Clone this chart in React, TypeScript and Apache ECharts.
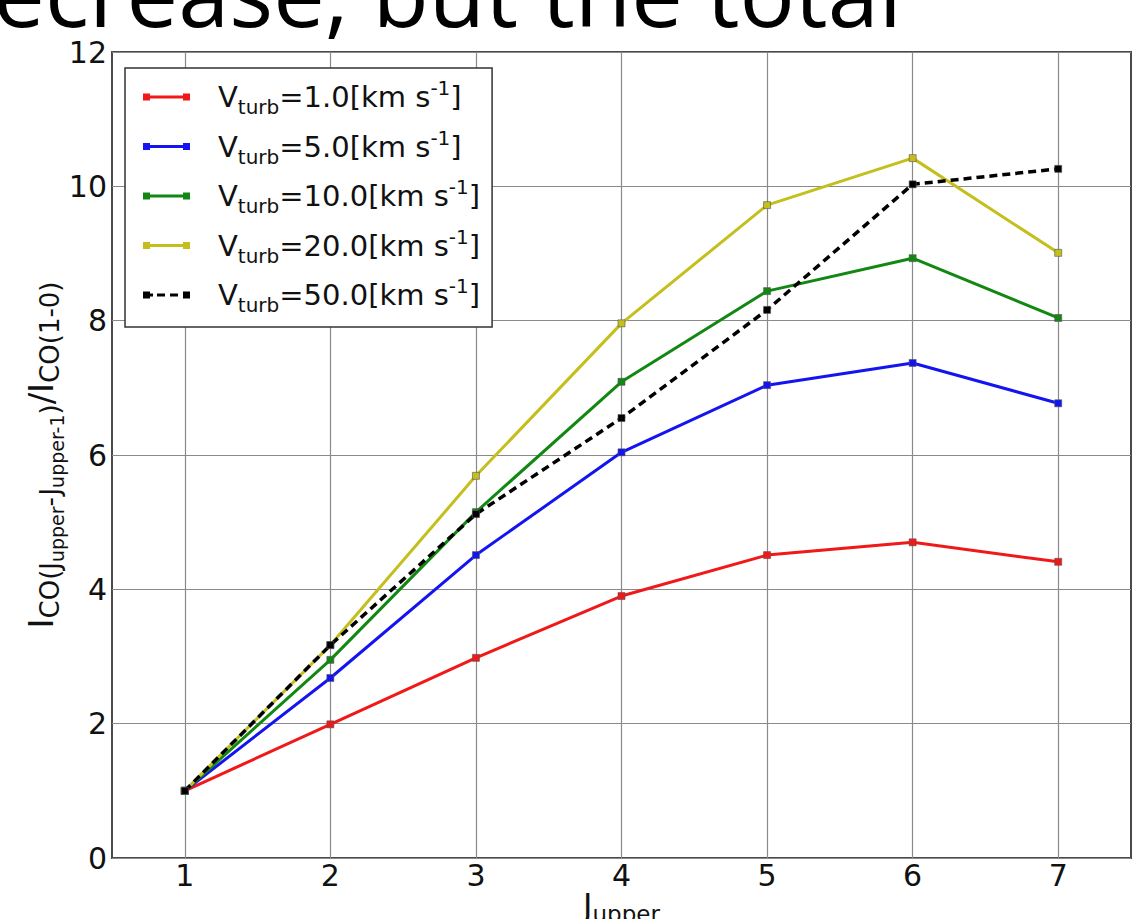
import React, { useEffect, useRef } from "react";
import * as echarts from "echarts";

// J_upper levels along the x axis
const jUpper = [1, 2, 3, 4, 5, 6, 7];

// turbulent velocities (km/s) for each curve
const vturb = ["1.0", "5.0", "10.0", "20.0", "50.0"];

// line ratios I_CO(J-J-1) / I_CO(1-0)
const ratioV1 = [1.0, 1.99, 2.98, 3.9, 4.51, 4.7, 4.41];
const ratioV5 = [1.0, 2.68, 4.51, 6.04, 7.04, 7.37, 6.77];
const ratioV10 = [1.0, 2.95, 5.15, 7.09, 8.44, 8.93, 8.04];
const ratioV20 = [1.0, 3.17, 5.69, 7.96, 9.72, 10.42, 9.01];
const ratioV50 = [1.0, 3.17, 5.12, 6.55, 8.16, 10.03, 10.26];

const yTickValues = [0, 2, 4, 6, 8, 10, 12];

const headline = "ecrease, but the total";

const seriesValues = [ratioV1, ratioV5, ratioV10, ratioV20, ratioV50];
const seriesColors = ["#f01818", "#1414f0", "#128812", "#c4bf1c", "#000000"];

const seriesName = (v: string) => `Vturb=${v}[km s-1]`;

// legend glyphs: a short line with a square marker at each end
const solidIcon = "path://M0,0.5h7v7h-7zM40,0.5h7v7h-7zM7,2.5h33v3h-33z";
const dashedIcon =
  "path://M0,0.5h7v7h-7zM7,2.5h3v3h-3zM14,2.5h8v3h-8zM27,2.5h8v3h-8zM40,0.5h7v7h-7z";

const FONT = "DejaVu Sans";

export default function App() {
  const ref = useRef<HTMLDivElement>(null);

  useEffect(() => {
    if (!ref.current) return;
    const chart = echarts.init(ref.current, null, { renderer: "svg" });

    const series = seriesValues.map((vals, i) => ({
      name: seriesName(vturb[i]),
      type: "line",
      data: vals.map((v, k) => [jUpper[k], v]),
      symbol: "rect",
      symbolSize: 7,
      z: 2 + i,
      lineStyle: {
        color: seriesColors[i],
        width: i === 4 ? 3.5 : 3,
        type: i === 4 ? [8, 5] : "solid",
      },
      itemStyle: {
        color: seriesColors[i],
        borderColor: "#555",
        borderWidth: 0.6,
      },
    }));

    const legendRich = {
      v0: { fontSize: 29, fontFamily: FONT, lineHeight: 30, color: "#111", padding: [0, 0, 0, 23] },
      v: { fontSize: 29, fontFamily: FONT, lineHeight: 30, color: "#111" },
      sub: { fontSize: 20, fontFamily: FONT, lineHeight: 30, color: "#111", padding: [20, 0, 0, 0] },
      sup: { fontSize: 20, fontFamily: FONT, lineHeight: 30, color: "#111", padding: [0, 0, 18, 0] },
    };

    const titleRich = {
      m: { fontSize: 34, fontFamily: FONT, lineHeight: 36, color: "#111" },
      s: { fontSize: 26, fontFamily: FONT, lineHeight: 36, color: "#111", padding: [18, 0, 0, 0] },
      ss: { fontSize: 19, fontFamily: FONT, lineHeight: 36, color: "#111", padding: [32, 0, 0, 0] },
    };

    const xTitleRich = {
      m: { fontSize: 32, fontFamily: FONT, lineHeight: 34, color: "#111" },
      s: { fontSize: 23, fontFamily: FONT, lineHeight: 34, color: "#111", padding: [18, 0, 0, 0] },
    };

    chart.setOption({
      animation: false,
      backgroundColor: "#ffffff",
      grid: {
        left: 112,
        top: 52,
        right: 2,
        bottom: 61,
        show: true,
        borderColor: "#4a4a4a",
        borderWidth: 2,
        backgroundColor: "transparent",
        containLabel: false,
        outerBoundsMode: "none",
      },
      xAxis: {
        type: "value",
        min: 0.5,
        max: 7.5,
        name: "{m|J}{s|upper}",
        nameLocation: "middle",
        nameGap: 30,
        nameMoveOverlap: false,
        nameTextStyle: { rich: xTitleRich },
        axisLine: { show: false },
        axisTick: { show: false, customValues: jUpper },
        axisLabel: {
          customValues: jUpper,
          fontFamily: FONT,
          fontSize: 30,
          color: "#111",
          margin: 2,
        },
        splitLine: { show: true, lineStyle: { color: "#8a8a8a", width: 1.2 } },
      },
      yAxis: {
        type: "value",
        min: 0,
        max: 12,
        interval: 2,
        name:
          "{m|I}{s|CO(J}{ss|upper}{s|-J}{ss|upper-1}{s|)}{m|/I}{s|CO(1-0)}",
        nameLocation: "middle",
        nameRotate: 90,
        nameGap: 53,
        nameMoveOverlap: false,
        nameTextStyle: { rich: titleRich },
        axisLine: { show: false },
        axisTick: { show: false },
        axisLabel: {
          fontFamily: FONT,
          fontSize: 30,
          color: "#111",
          margin: 5,
          formatter: (v: number) => (yTickValues.includes(v) ? String(v) : ""),
        },
        splitLine: { show: true, lineStyle: { color: "#8a8a8a", width: 1.2 } },
      },
      legend: {
        orient: "vertical",
        left: 125,
        top: 68,
        padding: [9, 12, 12, 18],
        itemGap: 9.5,
        itemWidth: 47,
        itemHeight: 7,
        backgroundColor: "#ffffff",
        borderColor: "#333",
        borderWidth: 1.5,
        borderRadius: 0,
        itemStyle: { borderWidth: 0 },
        data: vturb.map((v, i) => ({
          name: seriesName(v),
          icon: i === 4 ? dashedIcon : solidIcon,
        })),
        formatter: (name: string) => {
          const v = vturb.find((s) => seriesName(s) === name) || "";
          return `{v0|V}{sub|turb}{v|=${v}[km s}{sup|-1}{v|]}`;
        },
        textStyle: { rich: legendRich },
      },
      graphic: [
        {
          type: "text",
          x: 902,
          y: -9,
          z: 100,
          style: {
            text: headline,
            fontFamily: "Open Sans",
            fontSize: 92,
            fill: "#000",
            align: "right",
            verticalAlign: "middle",
          },
        },
      ],
      series,
    });

    return () => chart.dispose();
  }, []);

  return (
    <div
      ref={ref}
      style={{ position: "absolute", left: 0, top: 0, width: 1133, height: 919 }}
    />
  );
}
